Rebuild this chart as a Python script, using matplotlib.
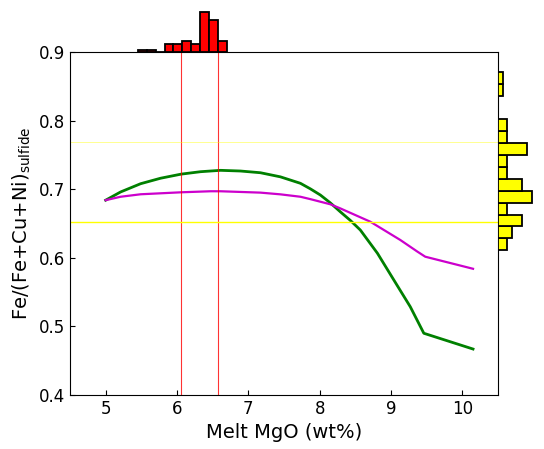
import matplotlib
matplotlib.use("Agg")
import matplotlib.pyplot as plt
import numpy as np

# Model curves
green_x = [5.00, 5.21, 5.49, 5.77, 6.06, 6.33, 6.61, 6.89, 7.17, 7.45, 7.73, 7.87, 8.01, 8.15, 8.29, 8.43, 8.57, 8.81, 9.04, 9.27, 9.46, 10.15]
green_y = [0.684, 0.696, 0.708, 0.716, 0.722, 0.7255, 0.7275, 0.7265, 0.724, 0.718, 0.7086, 0.7005, 0.6915, 0.680, 0.667, 0.6545, 0.6405, 0.6066, 0.5676, 0.5287, 0.490, 0.467]
mag_x = [5.00, 5.21, 5.49, 6.06, 6.47, 6.61, 7.17, 7.45, 7.73, 7.87, 8.15, 8.29, 8.71, 9.13, 9.37, 9.48, 10.15]
mag_y = [0.684, 0.689, 0.6926, 0.6955, 0.697, 0.697, 0.695, 0.6925, 0.689, 0.6855, 0.678, 0.672, 0.6526, 0.626, 0.609, 0.6016, 0.584]

# Reference lines
vlines_x = [6.05, 6.575]
hlines_y = [0.769, 0.652]

# Top histogram (MgO)
top_edges = [5.452, 5.577, 5.701, 5.826, 5.950, 6.075, 6.200, 6.324, 6.449, 6.573, 6.698]
top_counts = [0.5, 0.5, 0, 2, 2, 2.75, 2, 10, 8, 2.75]

# Right histogram (Fe ratio)
right_edges = [0.611, 0.6283, 0.6457, 0.6630, 0.6803, 0.6977, 0.7150, 0.7323, 0.7497, 0.7670, 0.7843, 0.8017, 0.8190, 0.8363, 0.8537, 0.8710]
right_counts = [2, 3.2, 5.4, 2, 7.5, 5.4, 2, 2, 6.5, 2, 2, 0, 0, 1, 1]

W, H = 544, 449
fig = plt.figure(figsize=(W/100, H/100), dpi=100)
L, R, T, B = 70, 498, 52, 395
ax = fig.add_axes([L/W, 1 - B/H, (R-L)/W, (B-T)/H])

ax.plot(green_x, green_y, color='green', lw=2)
ax.plot(mag_x, mag_y, color='#cc00cc', lw=1.6)
for xv in vlines_x:
    ax.axvline(xv, color='red', lw=0.8, alpha=0.8)
ax.axhline(hlines_y[0], color='yellow', lw=0.6, alpha=0.5)
ax.axhline(hlines_y[1], color='yellow', lw=1.0)

ax.set_xlim(4.5, 10.5)
ax.set_ylim(0.4, 0.9)
ax.set_xticks([5, 6, 7, 8, 9, 10])
ax.set_yticks([0.4, 0.5, 0.6, 0.7, 0.8, 0.9])
ax.tick_params(direction='in', labelsize=12)
ax.set_xlabel('Melt MgO (wt%)', fontsize=14)
ax.set_ylabel('Fe/(Fe+Cu+Ni)$_{\\mathrm{sulfide}}$', fontsize=14)

# top histogram axes
axt = fig.add_axes([L/W, 1 - T/H, (R-L)/W, T/H])
centers_t = [(top_edges[i] + top_edges[i+1]) / 2 for i in range(len(top_counts))]
widths_t = [top_edges[i+1] - top_edges[i] for i in range(len(top_counts))]
axt.bar(centers_t, top_counts, width=widths_t, color='red', edgecolor='black', lw=1.3)
axt.set_xlim(4.5, 10.5)
axt.set_ylim(0, 13)
axt.axis('off')

# right histogram axes
axr = fig.add_axes([R/W, 1 - B/H, (W-R)/W, (B-T)/H])
centers_r = [(right_edges[i] + right_edges[i+1]) / 2 for i in range(len(right_counts))]
heights_r = [right_edges[i+1] - right_edges[i] for i in range(len(right_counts))]
axr.barh(centers_r, right_counts, height=heights_r, color='yellow', edgecolor='black', lw=1.3)
axr.set_ylim(0.4, 0.9)
axr.set_xlim(0, 46/4.5)
axr.axis('off')

fig.savefig('out.png', dpi=100)
